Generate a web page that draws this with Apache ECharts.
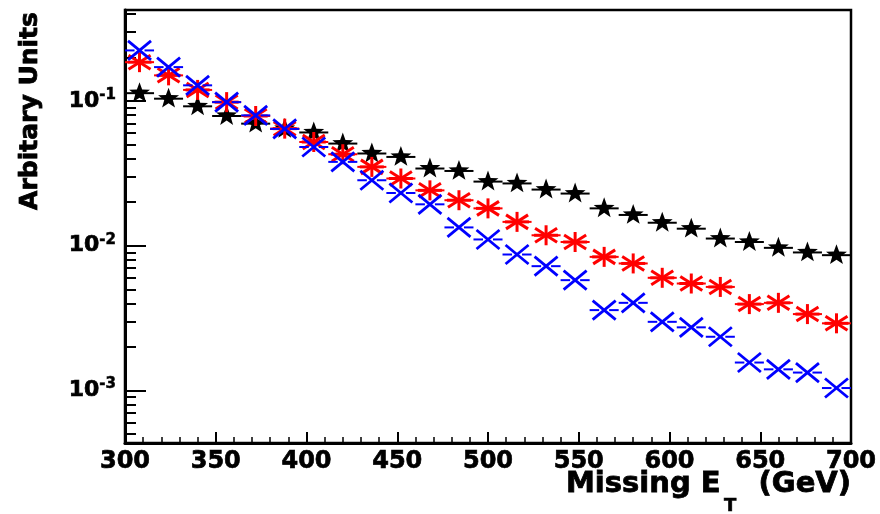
<!DOCTYPE html>
<html>
<head>
<meta charset="utf-8">
<script src="https://cdn.jsdelivr.net/npm/echarts@6/dist/echarts.min.js"></script>
<style>
  html, body { margin: 0; padding: 0; background: #fff; }
  #chart { width: 880px; height: 514px; }
</style>
</head>
<body>
<div id="chart"></div>
<script>
// bin centres (GeV), 16 GeV bins from 300 to 700
const binCenters = [308, 324, 340, 356, 372, 388, 404, 420, 436, 452, 468, 484, 500,
  516, 532, 548, 564, 580, 596, 612, 628, 644, 660, 676, 692]
const binHalf = 8

// black stars
const blackValues = [0.113, 0.1035, 0.0917, 0.0786, 0.0696, 0.064, 0.0605, 0.0507, 0.0433,
  0.041, 0.0341, 0.0328, 0.0277, 0.0269, 0.0244, 0.0229, 0.0181, 0.0163, 0.0144, 0.0131,
  0.0112, 0.0106, 0.00966, 0.00898, 0.0086]
// red asterisks
const redValues = [0.185, 0.150, 0.119, 0.098, 0.0786, 0.0643, 0.052, 0.0428, 0.035,
  0.0291, 0.0241, 0.0206, 0.0181, 0.0146, 0.0118, 0.0106, 0.00837, 0.00754, 0.006,
  0.00548, 0.00519, 0.00395, 0.00403, 0.00337, 0.00291]
// blue crosses
const blueValues = [0.223, 0.171, 0.128, 0.098, 0.0794, 0.064, 0.048, 0.0379, 0.0283,
  0.0231, 0.0193, 0.01337, 0.01104, 0.00869, 0.00722, 0.00578, 0.00359, 0.00403, 0.00298,
  0.00273, 0.00235, 0.00156, 0.0014, 0.00133, 0.00104]

// y axis ticks
const yMajorTicks = [0.001, 0.01, 0.1]
const yMinorTicks = [0.0005, 0.0006, 0.0007, 0.0008, 0.0009,
  0.002, 0.003, 0.004, 0.005, 0.006, 0.007, 0.008, 0.009,
  0.02, 0.03, 0.04, 0.05, 0.06, 0.07, 0.08, 0.09,
  0.2, 0.3, 0.4]

const FONT = 'DejaVu Sans'

const toPairs = (vals) => binCenters.map((x, i) => [x, vals[i]])

// draws error bar + marker for one point
const makeRender = (kind, color) => (params, api) => {
  const x = api.value(0)
  const y = api.value(1)
  const c = api.coord([x, y])
  const l = api.coord([x - binHalf, y])
  const r = api.coord([x + binHalf, y])
  const children = []
  const barStyle = { stroke: color, lineWidth: 2 }
  if (kind === 'star') {
    children.push({ type: 'line', shape: { x1: l[0], y1: c[1], x2: r[0], y2: c[1] }, style: barStyle })
    const pts = []
    for (let k = 0; k < 10; k++) {
      const rad = k % 2 === 0 ? 11 : 4.5
      const a = -Math.PI / 2 + k * Math.PI / 5
      pts.push([c[0] + rad * Math.cos(a), c[1] + rad * Math.sin(a)])
    }
    children.push({ type: 'polygon', shape: { points: pts }, style: { fill: color } })
  } else {
    const gap = 5
    children.push({ type: 'line', shape: { x1: l[0], y1: c[1], x2: c[0] - gap, y2: c[1] }, style: barStyle })
    children.push({ type: 'line', shape: { x1: c[0] + gap, y1: c[1], x2: r[0], y2: c[1] }, style: barStyle })
    if (kind === 'asterisk') {
      const mk = { stroke: color, lineWidth: 3 }
      children.push({ type: 'line', shape: { x1: c[0] - 12, y1: c[1], x2: c[0] + 12, y2: c[1] }, style: mk })
      children.push({ type: 'line', shape: { x1: c[0], y1: c[1] - 10, x2: c[0], y2: c[1] + 10 }, style: mk })
      children.push({ type: 'line', shape: { x1: c[0] - 11, y1: c[1] - 7, x2: c[0] + 11, y2: c[1] + 7 }, style: mk })
      children.push({ type: 'line', shape: { x1: c[0] - 11, y1: c[1] + 7, x2: c[0] + 11, y2: c[1] - 7 }, style: mk })
    } else {
      const mk = { stroke: color, lineWidth: 2.8 }
      children.push({ type: 'line', shape: { x1: c[0] - 11.5, y1: c[1] - 9.5, x2: c[0] + 11.5, y2: c[1] + 9.5 }, style: mk })
      children.push({ type: 'line', shape: { x1: c[0] - 11.5, y1: c[1] + 9.5, x2: c[0] + 11.5, y2: c[1] - 9.5 }, style: mk })
    }
  }
  return { type: 'group', children }
}

const chart = echarts.init(document.getElementById('chart'), null, { renderer: 'canvas' })

const yBase = {
  type: 'log',
  min: 0.000434,
  max: 0.424,
  position: 'left',
  splitLine: { show: false },
  axisLine: { show: false }
}

const titleFont = 'bold 29px "DejaVu Sans"'

chart.setOption({
  animation: false,
  backgroundColor: '#fff',
  grid: {
    left: 125, right: 29, top: 10, bottom: 71,
    show: true, borderColor: '#000', borderWidth: 2.5, backgroundColor: 'transparent'
  },
  xAxis: {
    type: 'value',
    min: 300,
    max: 700,
    interval: 50,
    splitLine: { show: false },
    axisLine: { lineStyle: { color: '#000', width: 3 } },
    axisTick: { inside: true, length: 11, lineStyle: { color: '#000', width: 2 } },
    minorTick: { show: true, splitNumber: 5, length: 6, lineStyle: { color: '#000', width: 1.5 } },
    axisLabel: {
      color: '#000', fontFamily: FONT, fontWeight: 'bold', fontSize: 24, margin: 7,
      textBorderColor: '#000', textBorderWidth: 0.7
    }
  },
  yAxis: [
    Object.assign({}, yBase, {
      axisLine: { show: true, onZero: false, lineStyle: { color: '#000', width: 3 } },
      axisTick: { inside: true, length: 11, customValues: yMinorTicks, lineStyle: { color: '#000', width: 2 } },
      axisLabel: {
        customValues: yMajorTicks,
        margin: 9,
        formatter: (v) => '{b|10}{s|' + Math.round(Math.log10(v)) + '}',
        rich: {
          b: { fontFamily: FONT, fontWeight: 'bold', fontSize: 22, color: '#000', textBorderColor: '#000', textBorderWidth: 0.7 },
          s: { fontFamily: FONT, fontWeight: 'bold', fontSize: 15, color: '#000', padding: [0, 0, 12, 0], textBorderColor: '#000', textBorderWidth: 0.5 }
        }
      }
    }),
    Object.assign({}, yBase, {
      axisTick: { inside: true, length: 21, customValues: yMajorTicks, lineStyle: { color: '#000', width: 2 } },
      axisLabel: { show: false }
    })
  ],
  graphic: [
    {
      type: 'text', x: 30, y: 111, rotation: Math.PI / 2,
      style: { text: 'Arbitary Units', font: 'bold 25px "DejaVu Sans"', fill: '#000', stroke: '#000', lineWidth: 0.8, align: 'center', verticalAlign: 'middle' }
    },
    {
      type: 'text', x: 566, y: 484,
      style: { text: 'Missing E', font: titleFont, fill: '#000', stroke: '#000', lineWidth: 0.8, align: 'left', verticalAlign: 'middle' }
    },
    {
      type: 'text', x: 724, y: 506,
      style: { text: 'T', font: 'bold 18px "DejaVu Sans"', fill: '#000', stroke: '#000', lineWidth: 0.6, align: 'left', verticalAlign: 'middle' }
    },
    {
      type: 'text', x: 851, y: 484,
      style: { text: '(GeV)', font: titleFont, fill: '#000', stroke: '#000', lineWidth: 0.8, align: 'right', verticalAlign: 'middle' }
    }
  ],
  series: [
    { type: 'custom', name: 'black', renderItem: makeRender('star', '#000'), data: toPairs(blackValues), clip: false, z: 3 },
    { type: 'custom', name: 'red', renderItem: makeRender('asterisk', '#ff0000'), data: toPairs(redValues), clip: false, z: 4 },
    { type: 'custom', name: 'blue', renderItem: makeRender('cross', '#0000ff'), data: toPairs(blueValues), clip: false, z: 5 }
  ]
})
</script>
</body>
</html>
